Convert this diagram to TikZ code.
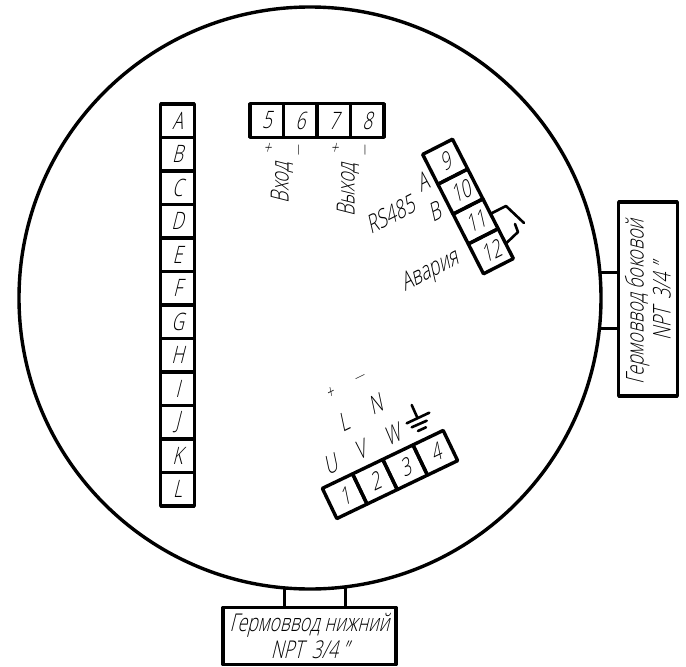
\documentclass[tikz,border=0pt]{standalone}
\usepackage{fontspec}
\setmainfont{Open Sans Light}[FakeSlant=0.25,FakeStretch=0.72]
\newcommand{\npt}{NPT\hspace{4pt} 3/4\hspace{5pt}”}
\tikzset{
  x=1pt,y=-1pt,
  heavy/.style={line width=3.4pt,line join=round,line cap=round},
  thinner/.style={line width=2.6pt,line join=round,line cap=round},
  cell/.style={draw,heavy,rectangle,inner sep=0pt,outer sep=0pt,minimum width=33.5pt,minimum height=33.5pt,font=\fontsize{24}{24}\selectfont},
  gland/.style={draw,heavy,rectangle,inner sep=0pt,outer sep=0pt,align=center,font=\fontsize{24.5}{27}\selectfont},
  lab/.style={inner sep=0pt,font=\fontsize{25}{25}\selectfont},
  plus/.style={inner sep=0pt,font=\fontsize{19}{19}\selectfont},
  minus/.style={inner sep=0pt,font=\fontsize{15}{15}\selectfont},
}
\begin{document}
\begin{tikzpicture}
\useasboundingbox (0,0) rectangle (686,667);
\node[circle,draw,heavy,inner sep=0pt,outer sep=0pt,minimum size=582pt] (case) at (310,298) {};
% glands
\node[gland,minimum width=173pt,minimum height=57pt] (bottom) at (309.5,636) {Гермоввод нижний\\\npt};
\node[gland,minimum width=194pt,minimum height=58.5pt,rotate=90] (side) at (648,299) {\hspace*{-6pt}Гермоввод боковой\\\hspace*{-6pt}\npt};
\draw[heavy,line cap=butt] (case.-95.7) -- (case.-95.7 |- bottom.north);
\draw[heavy,line cap=butt] (case.-83.9) -- (case.-83.9 |- bottom.north);
\draw[heavy,line cap=butt] (case.5.9) -- (case.5.9 -| side.north);
\draw[heavy,line cap=butt] (case.-6.1) -- (case.-6.1 -| side.north);
% left strip
\foreach \t [count=\i] in {A,B,C,D,E,F,G,H,I,J,K,L}
  \node[cell] (t\t) at (177.5,{87.25+33.5*\i}) {\t};
% strip 5-8
\foreach \t [count=\i] in {5,6,7,8}
  \node[cell] (c\t) at ({233.25+33.5*\i},120.5) {\t};
% strip 9-12
\begin{scope}[shift={(468,206.5)},rotate=27]
  \foreach \t [count=\i] in {9,10,11,12}
    \node[cell,transform shape] (c\t) at (0,{-83.75+33.5*\i}) {\t};
\end{scope}
% strip 1-4
\begin{scope}[shift={(390,474.5)},rotate=25.6]
  \foreach \t [count=\i] in {1,2,3,4}
    \node[cell,transform shape] (c\t) at ({-83.75+33.5*\i},0) {\t};
\end{scope}
% signs under 5-8
\node[plus] (p1) at (267,149) {+};
\node[minus,rotate=90] (m1) at (300.5,151) {—};
\node[plus] (p2) at (334,149) {+};
\node[minus,rotate=90] (m2) at (367,151) {—};
\node[lab,rotate=90] (vhod) at (282,183) {Вход};
\node[lab,rotate=90] (vyhod) at (348,190) {Выход};
% labels 9-12
\node[lab,rotate=27] (rs) at (390,215) {RS485};
\node[lab,rotate=27] (la) at (422,182) {A};
\node[lab,rotate=27] (lb) at (434,212) {B};
\node[lab,rotate=27] (avar) at (430,272) {Авария};
% switch
\coordinate (s1) at (506,206);
\coordinate (s2) at (524,223);
\coordinate (s3) at (518,232);
\coordinate (s4) at (515,224);
\draw[thinner] (c11.east) -- (s1) -- (s2);
\draw[thinner] (c12.east) -- (s3) -- (s4);
% labels 1-4
\node[lab,rotate=26] (lu) at (330,465) {U};
\node[lab,rotate=26] (lv) at (360,450) {V};
\node[lab,rotate=26] (lw) at (392,435) {W};
\node[lab,rotate=26] (ll) at (343,422) {L};
\node[lab,rotate=26] (ln) at (375,405) {N};
\node[plus,rotate=26] (pw) at (330,394) {+};
\node[minus,rotate=26] (mw) at (360,379) {—};
% earth
\draw[thinner] (411.7,405) -- (417.5,418);
\draw[thinner] (406.7,423.3) -- (429.3,412.7);
\draw[thinner] (411.7,427.3) -- (426.7,420.7);
\draw[thinner] (418,431) -- (426,427.3);
\end{tikzpicture}
\end{document}
